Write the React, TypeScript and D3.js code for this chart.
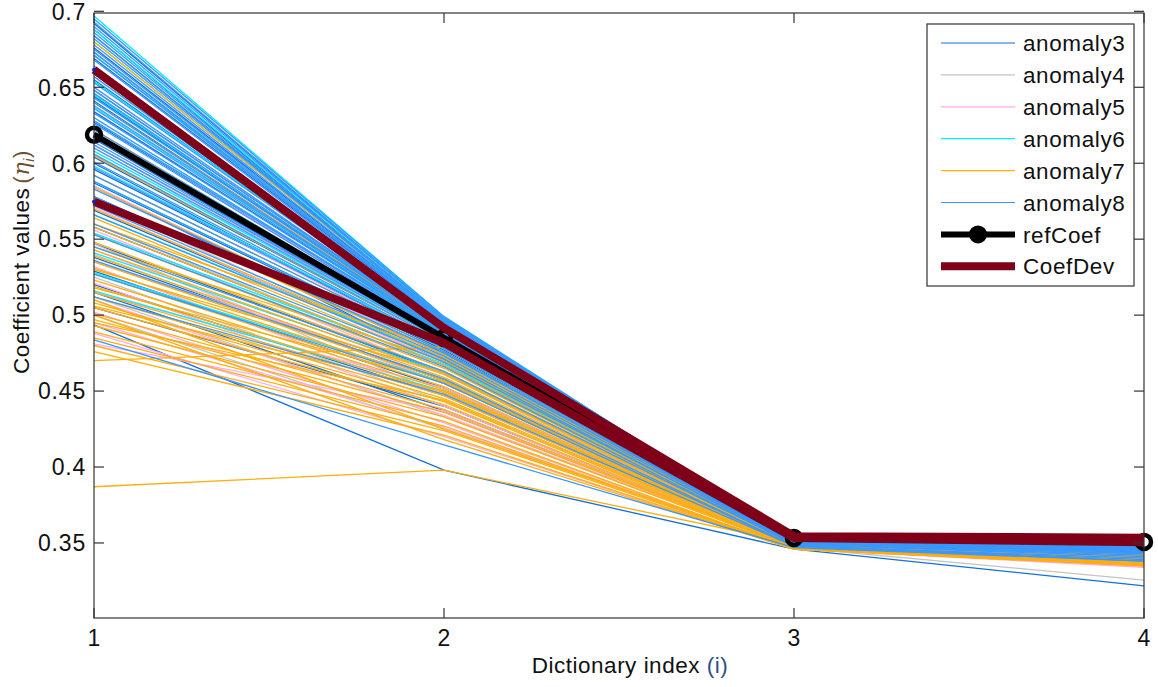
import React from "react";
import * as d3 from "d3";

const xIndex = [1, 2, 3, 4];
const xTicks = [1, 2, 3, 4];
const yTicks = [0.35, 0.4, 0.45, 0.5, 0.55, 0.6, 0.65, 0.7];

const anomaly3 = [
  [0.692, 0.498, 0.352, 0.35], [0.684, 0.497, 0.352, 0.349], [0.676, 0.496, 0.353, 0.349],
  [0.669, 0.495, 0.352, 0.348], [0.662, 0.494, 0.351, 0.348], [0.655, 0.492, 0.352, 0.347],
  [0.648, 0.491, 0.351, 0.347], [0.641, 0.489, 0.352, 0.346], [0.634, 0.488, 0.351, 0.347],
  [0.627, 0.487, 0.351, 0.346], [0.62, 0.485, 0.35, 0.345], [0.612, 0.484, 0.351, 0.346],
  [0.604, 0.482, 0.35, 0.345], [0.596, 0.48, 0.35, 0.344], [0.587, 0.477, 0.351, 0.345],
  [0.578, 0.474, 0.35, 0.343], [0.569, 0.471, 0.349, 0.343], [0.558, 0.467, 0.349, 0.342],
  [0.547, 0.462, 0.349, 0.341], [0.538, 0.457, 0.348, 0.341], [0.529, 0.452, 0.348, 0.34],
  [0.52, 0.447, 0.348, 0.339], [0.505, 0.44, 0.347, 0.338], [0.4936, 0.398, 0.346, 0.3217],
  [0.515, 0.437, 0.347, 0.338], [0.585, 0.469, 0.349, 0.342], [0.688, 0.496, 0.352, 0.349],
  [0.673, 0.494, 0.352, 0.348], [0.659, 0.492, 0.351, 0.347], [0.644, 0.49, 0.351, 0.346],
  [0.616, 0.483, 0.35, 0.345], [0.6, 0.479, 0.35, 0.344],
];
const anomaly4 = [
  [0.64, 0.488, 0.351, 0.346], [0.61, 0.481, 0.35, 0.344], [0.585, 0.474, 0.35, 0.343],
  [0.56, 0.466, 0.349, 0.341], [0.54, 0.455, 0.348, 0.339], [0.525, 0.443, 0.348, 0.337],
  [0.512, 0.433, 0.347, 0.3256], [0.5, 0.425, 0.347, 0.336], [0.547, 0.447, 0.348, 0.338],
  [0.575, 0.47, 0.35, 0.342],
];
const anomaly5 = [
  [0.65, 0.491, 0.351, 0.347], [0.628, 0.486, 0.351, 0.346], [0.612, 0.483, 0.35, 0.345],
  [0.598, 0.478, 0.35, 0.344], [0.585, 0.474, 0.35, 0.343], [0.571, 0.469, 0.349, 0.342],
  [0.556, 0.462, 0.349, 0.341], [0.543, 0.455, 0.348, 0.34], [0.532, 0.447, 0.348, 0.339],
  [0.521, 0.44, 0.347, 0.338], [0.51, 0.434, 0.347, 0.337], [0.502, 0.429, 0.346, 0.336],
  [0.495, 0.426, 0.346, 0.335], [0.488, 0.42, 0.346, 0.334], [0.481, 0.437, 0.347, 0.336],
  [0.515, 0.452, 0.348, 0.339], [0.535, 0.461, 0.348, 0.34],
];
const anomaly6 = [
  [0.697, 0.499, 0.352, 0.35], [0.688, 0.498, 0.352, 0.349], [0.68, 0.497, 0.353, 0.349],
  [0.671, 0.496, 0.352, 0.348], [0.662, 0.494, 0.352, 0.348], [0.654, 0.493, 0.351, 0.347],
  [0.645, 0.491, 0.352, 0.347], [0.637, 0.489, 0.351, 0.346], [0.628, 0.488, 0.351, 0.346],
  [0.619, 0.486, 0.35, 0.345], [0.608, 0.483, 0.351, 0.345], [0.598, 0.481, 0.35, 0.344],
  [0.588, 0.478, 0.35, 0.344], [0.577, 0.475, 0.35, 0.343], [0.566, 0.472, 0.349, 0.342],
  [0.554, 0.468, 0.349, 0.342], [0.541, 0.462, 0.349, 0.341], [0.528, 0.456, 0.348, 0.34],
  [0.516, 0.45, 0.348, 0.339],
];
const anomaly7 = [
  [0.68, 0.497, 0.352, 0.349], [0.66, 0.494, 0.352, 0.348], [0.64, 0.49, 0.351, 0.347],
  [0.622, 0.486, 0.351, 0.346], [0.605, 0.482, 0.35, 0.346], [0.592, 0.479, 0.35, 0.345],
  [0.584, 0.476, 0.35, 0.345], [0.577, 0.474, 0.35, 0.344], [0.57, 0.472, 0.35, 0.344],
  [0.564, 0.469, 0.349, 0.343], [0.558, 0.467, 0.349, 0.343], [0.553, 0.465, 0.349, 0.342],
  [0.548, 0.463, 0.349, 0.342], [0.543, 0.461, 0.349, 0.342], [0.539, 0.459, 0.349, 0.341],
  [0.535, 0.457, 0.348, 0.341], [0.531, 0.455, 0.348, 0.341], [0.527, 0.453, 0.348, 0.34],
  [0.523, 0.451, 0.348, 0.34], [0.519, 0.449, 0.348, 0.34], [0.515, 0.447, 0.348, 0.339],
  [0.512, 0.445, 0.348, 0.339], [0.508, 0.443, 0.347, 0.339], [0.505, 0.441, 0.347, 0.338],
  [0.501, 0.438, 0.347, 0.338], [0.497, 0.436, 0.347, 0.338], [0.493, 0.433, 0.347, 0.337],
  [0.489, 0.43, 0.346, 0.337], [0.485, 0.427, 0.346, 0.336], [0.48, 0.424, 0.346, 0.336],
  [0.476, 0.421, 0.346, 0.335], [0.47, 0.479, 0.35, 0.344], [0.387, 0.398, 0.35, 0.343],
  [0.545, 0.47, 0.35, 0.344], [0.53, 0.462, 0.349, 0.342], [0.518, 0.456, 0.349, 0.341],
  [0.506, 0.45, 0.348, 0.34], [0.495, 0.444, 0.348, 0.339], [0.56, 0.476, 0.35, 0.345],
  [0.575, 0.48, 0.35, 0.345], [0.5, 0.418, 0.346, 0.335], [0.51, 0.425, 0.347, 0.336],
];
const anomaly8 = [
  [0.695, 0.499, 0.352, 0.349], [0.69, 0.498, 0.353, 0.35], [0.686, 0.497, 0.352, 0.348],
  [0.682, 0.497, 0.352, 0.349], [0.678, 0.496, 0.353, 0.35], [0.675, 0.495, 0.352, 0.347],
  [0.671, 0.495, 0.351, 0.348], [0.668, 0.494, 0.352, 0.349], [0.664, 0.494, 0.352, 0.346],
  [0.66, 0.493, 0.351, 0.347], [0.657, 0.492, 0.352, 0.348], [0.653, 0.492, 0.351, 0.346],
  [0.65, 0.491, 0.352, 0.349], [0.646, 0.49, 0.351, 0.347], [0.643, 0.49, 0.352, 0.345],
  [0.64, 0.489, 0.351, 0.348], [0.636, 0.488, 0.352, 0.346], [0.633, 0.488, 0.351, 0.347],
  [0.63, 0.487, 0.35, 0.345], [0.626, 0.486, 0.351, 0.348], [0.622, 0.486, 0.352, 0.346],
  [0.618, 0.485, 0.351, 0.347], [0.614, 0.484, 0.35, 0.344], [0.61, 0.483, 0.351, 0.346],
  [0.606, 0.482, 0.35, 0.345], [0.601, 0.481, 0.351, 0.347], [0.597, 0.48, 0.35, 0.344],
  [0.592, 0.479, 0.351, 0.346], [0.588, 0.478, 0.35, 0.345], [0.583, 0.476, 0.35, 0.343],
  [0.578, 0.475, 0.351, 0.346], [0.572, 0.473, 0.35, 0.344], [0.566, 0.471, 0.349, 0.342],
  [0.56, 0.469, 0.35, 0.345], [0.553, 0.466, 0.349, 0.341], [0.545, 0.463, 0.349, 0.343],
  [0.536, 0.458, 0.348, 0.34], [0.527, 0.455, 0.348, 0.338], [0.512, 0.448, 0.348, 0.339],
  [0.4837, 0.4146, 0.347, 0.338], [0.693, 0.498, 0.352, 0.349], [0.684, 0.496, 0.352, 0.348],
  [0.673, 0.495, 0.352, 0.348], [0.662, 0.493, 0.351, 0.347], [0.648, 0.491, 0.351, 0.347],
  [0.638, 0.489, 0.351, 0.346], [0.628, 0.487, 0.351, 0.346], [0.612, 0.484, 0.35, 0.345],
];
const refCoef = [0.6188, 0.485, 0.3533, 0.3507];
const coefDevUpper = [0.6616, 0.4916, 0.3545, 0.3535];
const coefDevLower = [0.5747, 0.4817, 0.3532, 0.3505];

const seriesNames = ["anomaly3", "anomaly4", "anomaly5", "anomaly6", "anomaly7", "anomaly8"];
const seriesData = [anomaly3, anomaly4, anomaly5, anomaly6, anomaly7, anomaly8];
const seriesColors = ["#1470dc", "#c4c4c4", "#ffa8f0", "#00ecff", "#ffae0a", "#3898ff"];

const W = 1158;
const H = 687;
const L = 94, R = 1144, T = 13, B = 618;
const FONT = "'Liberation Sans', Arial, sans-serif";

export default function App() {
  const x = d3.scaleLinear().domain([1, 4]).range([L, R]);
  const y = d3.scaleLinear().domain([0.3006, 0.6989]).range([B, T]);
  const line = d3
    .line<number>()
    .x((_, i) => x(xIndex[i]))
    .y((d) => y(d));

  const legendX = 927, legendY = 24, legendW = 207, legendH = 262;
  const rowY = (i: number) => 43 + i * 31.9;
  const legendItems = [
    ...seriesNames.map((n, i) => ({ name: n, color: seriesColors[i], w: 1.2, marker: false })),
    { name: "refCoef", color: "#000", w: 6, marker: true },
    { name: "CoefDev", color: "#7f0019", w: 8, marker: false },
  ];

  return (
    <svg
      width={W}
      height={H}
      style={{ position: "absolute", left: 0, top: 0, background: "#fff" }}
      fontFamily={FONT}
    >
      <rect x={0} y={0} width={W} height={H} fill="#fff" />
      {seriesData.map((rows, si) => (
        <g key={seriesNames[si]}>
          {rows.map((r, ri) => (
            <path key={ri} d={line(r) || ""} fill="none" stroke={seriesColors[si]} strokeWidth={1.3} />
          ))}
        </g>
      ))}
      <path d={line(refCoef) || ""} fill="none" stroke="#000" strokeWidth={6} strokeLinejoin="round" />
      {refCoef.map((v, i) => (
        <circle key={i} cx={x(xIndex[i])} cy={y(v)} r={7} fill="none" stroke="#000" strokeWidth={4.5} />
      ))}
      <path d={line(coefDevUpper) || ""} fill="none" stroke="#7f0019" strokeWidth={8} strokeLinejoin="round" />
      <path d={line(coefDevLower) || ""} fill="none" stroke="#7f0019" strokeWidth={8} strokeLinejoin="round" />
      <circle cx={x(1)} cy={y(coefDevUpper[0])} r={2} fill="#1010ff" />
      <circle cx={x(1)} cy={y(coefDevLower[0])} r={2} fill="#1010ff" />

      <rect x={L} y={T} width={R - L} height={B - T} fill="none" stroke="#333" strokeWidth={1.2} />
      {yTicks.map((t) => (
        <g key={t}>
          <line x1={L} x2={L + 10} y1={y(t)} y2={y(t)} stroke="#333" strokeWidth={1.2} />
          <line x1={R} x2={R - 10} y1={y(t)} y2={y(t)} stroke="#333" strokeWidth={1.2} />
          <text x={L - 8} y={y(t)} dy="0.36em" textAnchor="end" fontSize={23} letterSpacing={0.8} fill="#111">
            {t}
          </text>
        </g>
      ))}
      {xTicks.map((t) => (
        <g key={t}>
          <line x1={x(t)} x2={x(t)} y1={B} y2={B - 10} stroke="#333" strokeWidth={1.2} />
          <line x1={x(t)} x2={x(t)} y1={T} y2={T + 10} stroke="#333" strokeWidth={1.2} />
          <text x={x(t)} y={646} textAnchor="middle" fontSize={23} fill="#111">
            {t}
          </text>
        </g>
      ))}
      <text x={630} y={673} textAnchor="middle" fontSize={22.5} letterSpacing={0.5} fill="#111">
        Dictionary index <tspan fill="#2d4f8a">(i)</tspan>
      </text>
      <text transform="translate(29,262) rotate(-90)" textAnchor="middle" fontSize={22.5} letterSpacing={0.5} fill="#111">
        Coefficient values
        <tspan fill="#6b4e2e" dx={4}>(</tspan>
        <tspan fill="#6b4e2e" fontStyle="italic" fontFamily="'DejaVu Serif', serif">η</tspan>
        <tspan fill="#6b4e2e" fontStyle="italic" fontSize={14} dy={5}>i</tspan>
        <tspan fill="#6b4e2e" dy={-5}>)</tspan>
      </text>

      <rect x={legendX} y={legendY} width={legendW} height={legendH} fill="#fff" stroke="#333" strokeWidth={1.2} />
      {legendItems.map((it, i) => (
        <g key={it.name}>
          <line x1={941} x2={1015} y1={rowY(i)} y2={rowY(i)} stroke={it.color} strokeWidth={it.w} />
          {it.marker && <circle cx={978} cy={rowY(i)} r={9} fill="#000" />}
          <text x={1023} y={rowY(i)} dy="0.36em" fontSize={22.5} letterSpacing={0.6} fill="#111">
            {it.name}
          </text>
        </g>
      ))}
    </svg>
  );
}
